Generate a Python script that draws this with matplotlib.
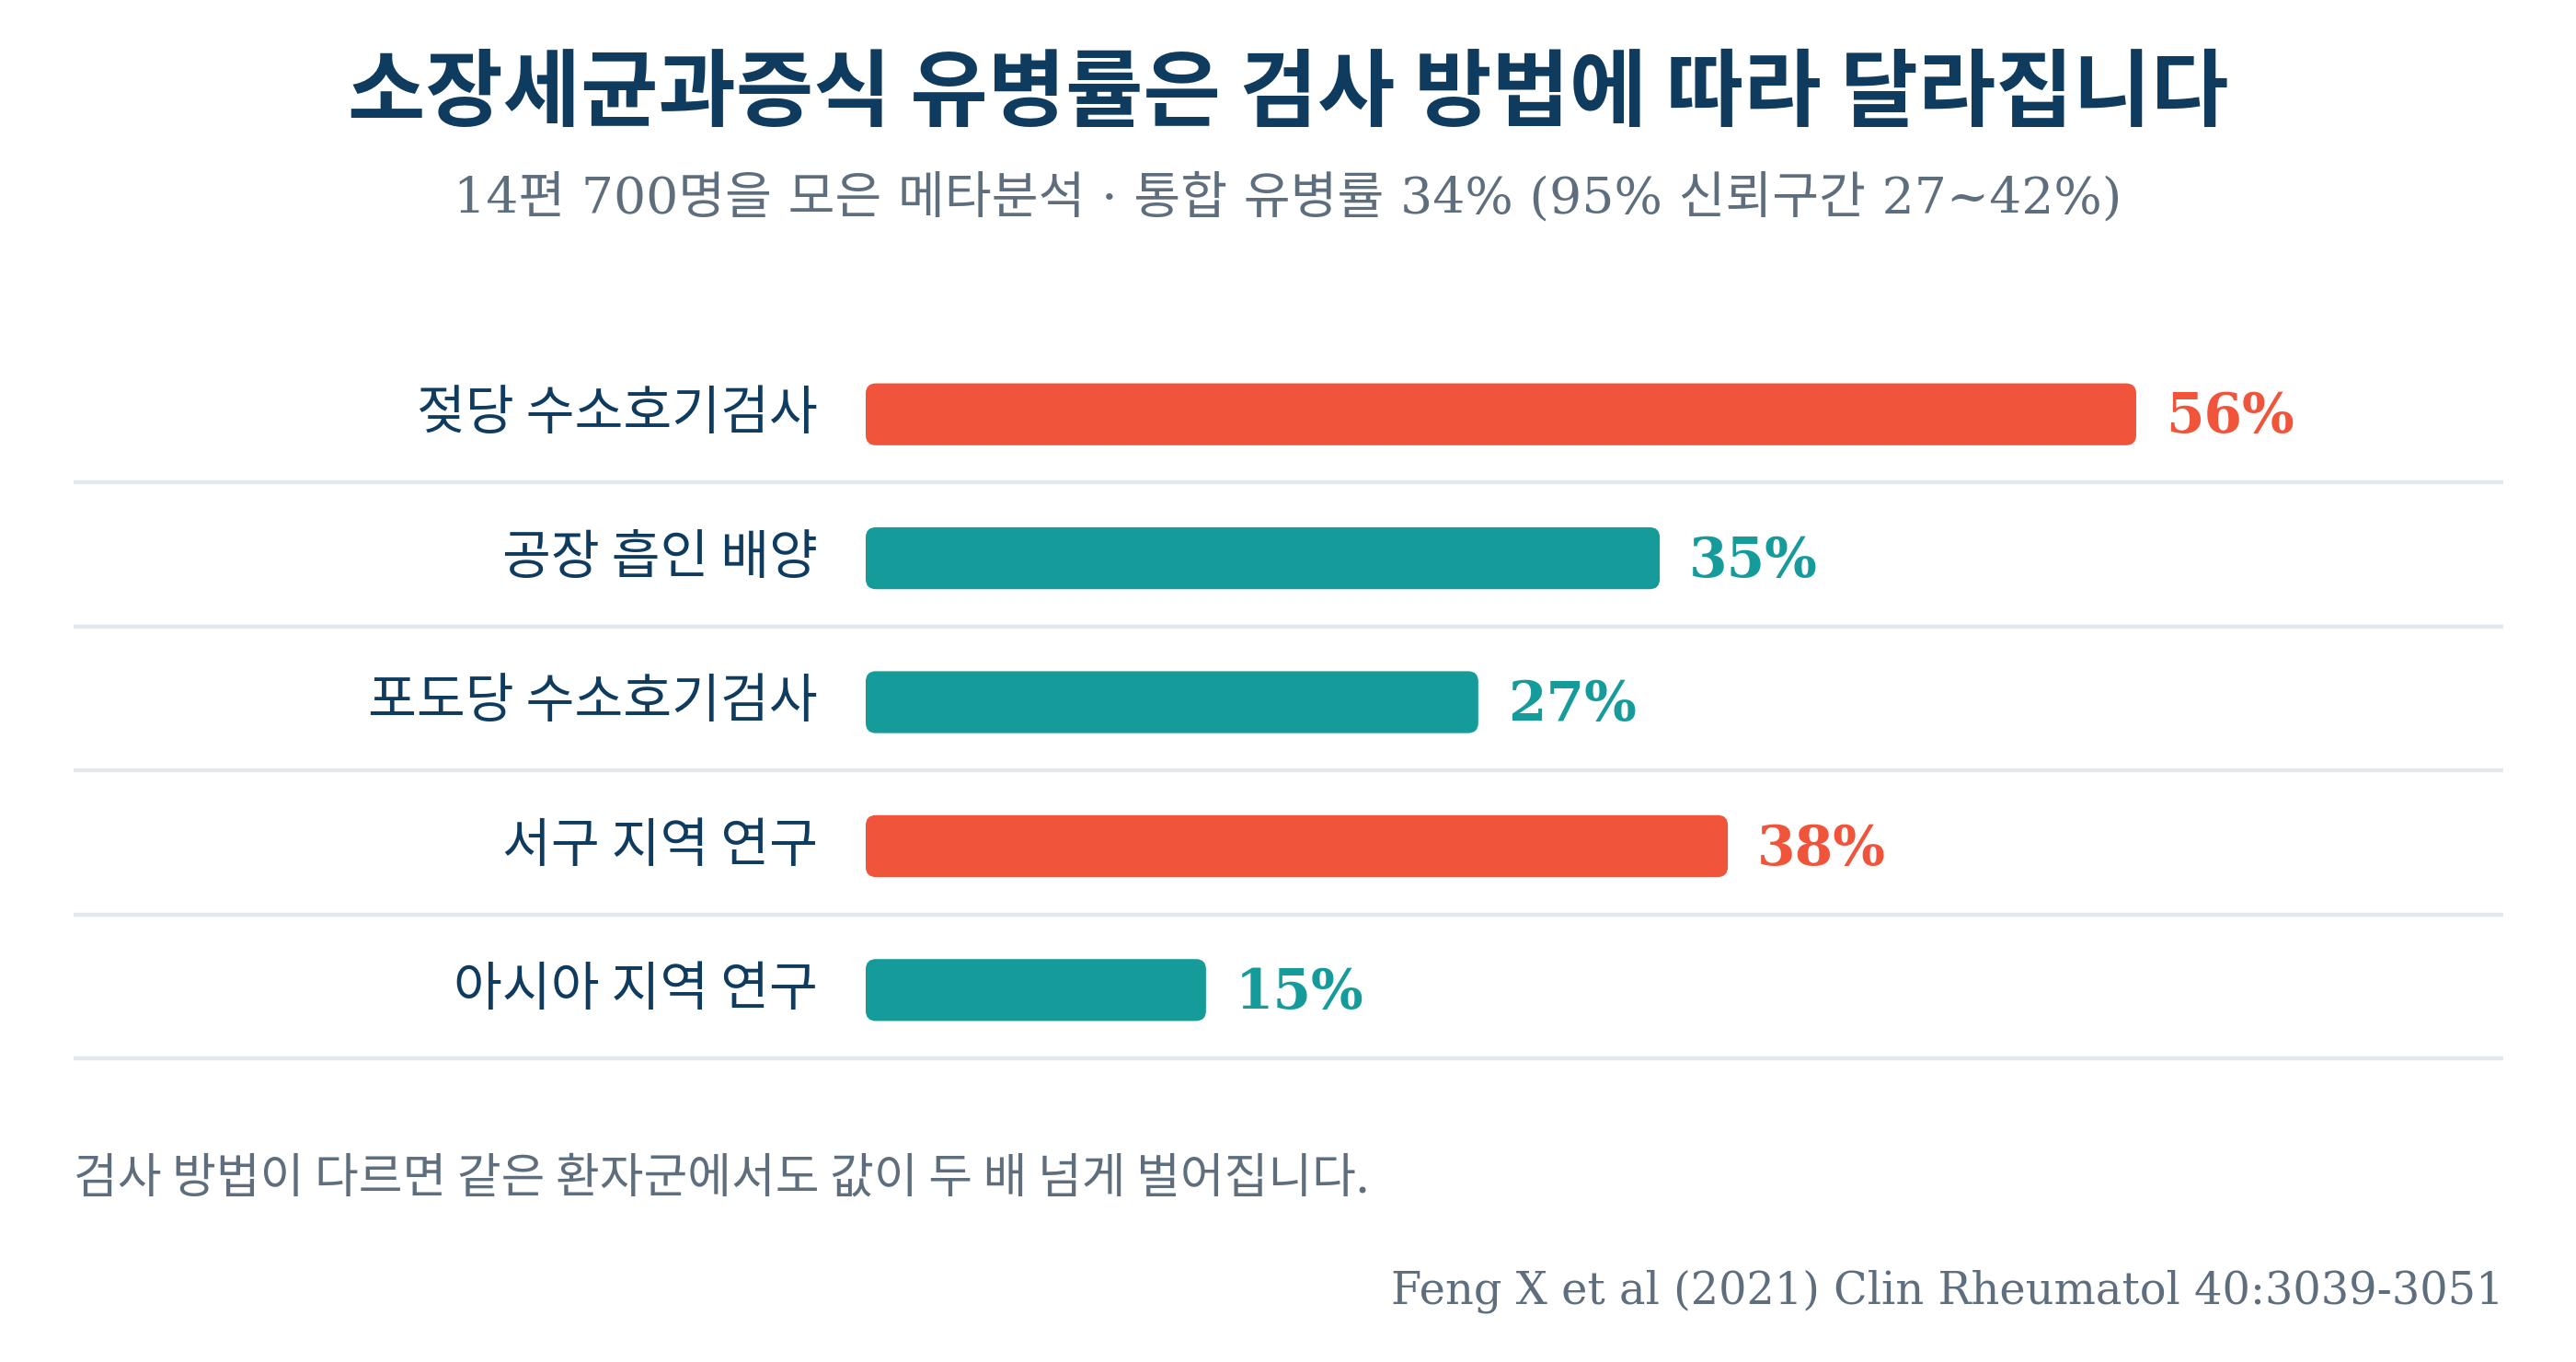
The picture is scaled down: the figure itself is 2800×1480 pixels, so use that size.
import matplotlib
matplotlib.use("Agg")
import matplotlib.pyplot as plt
from matplotlib.patches import FancyBboxPatch

# ---- data ----
categories = ["젖당 수소호기검사", "공장 흡인 배양", "포도당 수소호기검사", "서구 지역 연구", "아시아 지역 연구"]
values = [56, 35, 27, 38, 15]
highlight = [True, False, False, True, False]
value_labels = ["56%", "35%", "27%", "38%", "15%"]

title = "소장세균과증식 유병률은 검사 방법에 따라 달라집니다"
subtitle = "14편 700명을 모은 메타분석 · 통합 유병률 34% (95% 신뢰구간 27~42%)"
footnote = "검사 방법이 다르면 같은 환자군에서도 값이 두 배 넘게 벌어집니다."
source = "Feng X et al (2021) Clin Rheumatol 40:3039-3051"

# ---- style ----
RED = "#f0553c"
TEAL = "#169b9b"
NAVY = "#0f3b5f"
GREY = "#5e6e7d"
LINE = "#e2e8ec"
SANS = ["Noto Sans CJK KR", "DejaVu Sans"]
SERIF = ["DejaVu Serif", "Noto Sans CJK KR"]

W, H, DPI = 2800, 1480, 200
fig = plt.figure(figsize=(W / DPI, H / DPI), dpi=DPI, facecolor="white")

# axes geometry in pixels
ax_left_px, ax_right_px = 80, 2721
ax_top_px, ax_bot_px = 372, 1154
ax = fig.add_axes([ax_left_px / W, 1 - ax_bot_px / H,
                   (ax_right_px - ax_left_px) / W, (ax_bot_px - ax_top_px) / H])
px_per_pct = 24.66
bar0_px = 941
xmin = -(bar0_px - ax_left_px) / px_per_pct
xmax = (ax_right_px - bar0_px) / px_per_pct
ax.set_xlim(xmin, xmax)
n = len(categories)
ax.set_ylim(n - 0.5, -0.5)
ax.axis("off")

row_px = (ax_bot_px - ax_top_px) / n
bar_h = 0.43
aspect = px_per_pct / row_px
radius_px = 11
r = radius_px / px_per_pct

for i, (cat, v, hl, lab) in enumerate(zip(categories, values, highlight, value_labels)):
    col = RED if hl else TEAL
    patch = FancyBboxPatch((0, i - bar_h / 2), v, bar_h,
                           boxstyle=f"round,pad=0,rounding_size={r}",
                           mutation_aspect=aspect, facecolor=col, edgecolor="none",
                           zorder=3)
    ax.add_patch(patch)
    ax.text(-2.1, i, cat, ha="right", va="center", fontsize=20.7,
            color=NAVY, family=SANS)
    ax.text(v + 1.3, i + 0.02, lab, ha="left", va="center", fontsize=21.5,
            fontweight="bold", color=col, family="DejaVu Serif")
    ax.axhline(i + 0.474, color=LINE, lw=1.6, zorder=1)

fig.text(0.5, 1 - 103 / H, title, ha="center", va="center", fontsize=33,
         fontweight="bold", color=NAVY, family=SANS)
fig.text(0.5, 1 - 215 / H, subtitle, ha="center", va="center", fontsize=19.9,
         color=GREY, family=SERIF)
fig.text(80 / W, 1 - 1281 / H, footnote, ha="left", va="center", fontsize=18.7,
         color=GREY, family=SANS)
fig.text(2721 / W, 1 - 1403 / H, source, ha="right", va="center", fontsize=17.25,
         color=GREY, family="DejaVu Serif")

fig.savefig("out.png", dpi=DPI, facecolor="white")
